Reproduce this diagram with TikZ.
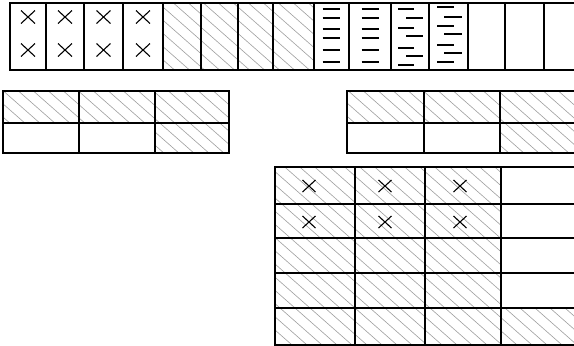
\documentclass[tikz,border=0pt]{standalone}
\begin{document}
\begin{tikzpicture}[x=1pt,y=-1pt,
  frame/.style={line width=1.1pt, line cap=rect},
  hatchln/.style={line width=0.6pt, gray!75},
  dashln/.style={line width=1.1pt},
  xline/.style={line width=1.1pt},
  xbig/.pic={\draw[xline] (-7,-6.5) -- (7,6.5) (-7,6.5) -- (7,-6.5);},
  xm/.pic={\draw[xline] (-6.5,-6) -- (6.5,6) (-6.5,6) -- (6.5,-6);}]
\useasboundingbox (0,0) rectangle (574,346);
\clip (0,0) rectangle (574,346);
\fill[white] (0,0) rectangle (574,346);

% ---------- hatching of all shaded cells ----------
\begin{scope}
  \clip (163,3) rectangle (314,70)
        (3,91) rectangle (229,123) (155,123) rectangle (229,153)
        (347,91) rectangle (590,123) (500,123) rectangle (590,153)
        (275,167) rectangle (501,345) (501,308) rectangle (590,345);
  \foreach \s in {-400,-385,...,600}
    \draw[hatchln] (\s,0) -- (\s+400,352);
\end{scope}

% ---------- top strip ----------
\draw[frame] (10,3) -- (590,3) (10,70) -- (590,70);
\foreach \x in {10,46,84,123,163,201,238,273,314,349,391,429,468,505,544}
  \draw[frame] (\x,3) -- (\x,70);
\foreach \cx in {28,65,103.5,143}
  \foreach \cy in {17,50}
    \pic at (\cx,\cy) {xbig};
\foreach \cx in {331,370}
  \foreach \cy in {9,18,29,38,50,62}
    \draw[dashln] (\cx-8.5,\cy) -- (\cx+8.5,\cy);
\foreach \cy in {9,28,48,65} \draw[dashln] (398,\cy) -- (414,\cy);
\foreach \cy in {18,36,56} \draw[dashln] (406,\cy) -- (423,\cy);
\foreach \cy in {7,26,45,62} \draw[dashln] (437,\cy) -- (454,\cy);
\foreach \cy in {17,34,53} \draw[dashln] (444,\cy) -- (462,\cy);

% ---------- middle left ----------
\draw[frame] (3,91) rectangle (229,153);
\draw[frame] (3,123) -- (229,123);
\foreach \x in {79,155} \draw[frame] (\x,91) -- (\x,153);

% ---------- middle right ----------
\draw[frame] (347,91) -- (590,91) (347,123) -- (590,123) (347,153) -- (590,153);
\foreach \x in {347,424,500} \draw[frame] (\x,91) -- (\x,153);

% ---------- bottom ----------
\foreach \y in {167,204,238,273,308,345} \draw[frame] (275,\y) -- (590,\y);
\foreach \x in {275,355,425,501} \draw[frame] (\x,167) -- (\x,345);
\foreach \cx in {309,385,460}
  \foreach \cy in {186,222}
    \pic at (\cx,\cy) {xm};
\end{tikzpicture}
\end{document}
